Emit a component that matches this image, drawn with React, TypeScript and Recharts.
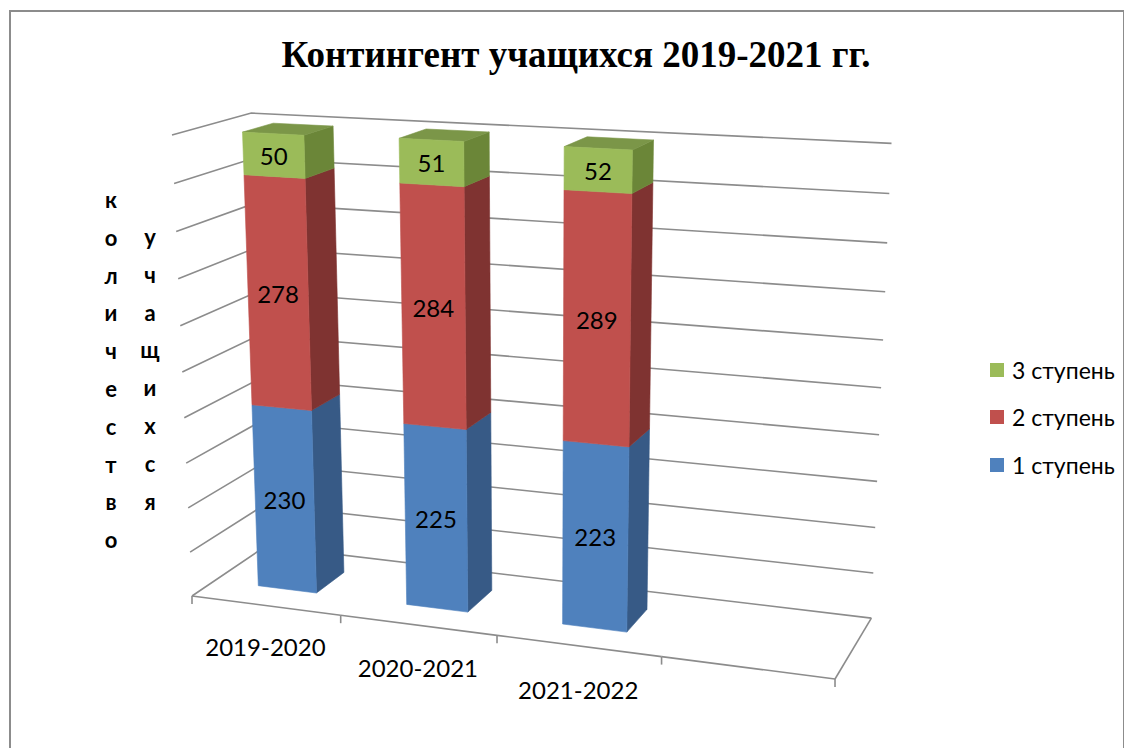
import React from 'react';
import { BarChart, Bar, XAxis, YAxis, CartesianGrid, Legend, LabelList } from 'recharts';

// categories (the 4th slot is empty in the source sheet)
const CATEGORIES = ['2019-2020', '2020-2021', '2021-2022', ''];
const STAGE_1 = [230, 225, 223, null];
const STAGE_2 = [278, 284, 289, null];
const STAGE_3 = [50, 51, 52, null];
const Y_MAX = 560;
const Y_TICKS = [0, 56, 112, 168, 224, 280, 336, 392, 448, 504, 560];

const data = CATEGORIES.map((name, i) => ({ name, s1: STAGE_1[i], s2: STAGE_2[i], s3: STAGE_3[i] }));

const FONT = 'Lato, "Open Sans", sans-serif';
const GRID = '#8c8c8c';

const W = 1124;
const H = 740;
const MARGIN = { top: 100, right: 230, bottom: 60, left: 100 };
const X_AXIS_H = 40;
const L = MARGIN.left;
const R = W - MARGIN.right;
const T = MARGIN.top;
const B = H - MARGIN.bottom - X_AXIS_H;

// perspective of the 3-D box: u along categories, v up the value axis, d into the depth
const O = [184, 588];
const U = [562.3, 17.5];
const V = [-29.0, -468.0];
const D = [91.5, -13.5];
const CU = -0.0976;
const CV = -0.0549;
const CD = 0.068;
const FRONT = 0.3;
const BACK = 0.7;

const proj = (u: number, v: number, d: number) => {
  const w = 1 + CU * u + CV * v + CD * d;
  return [(O[0] + U[0] * u + V[0] * v + D[0] * d) / w, (O[1] + U[1] * u + V[1] * v + D[1] * d) / w];
};
const toU = (x: number) => (x - L) / (R - L);
const toV = (y: number) => (B - y) / (B - T);
const pts = (list: number[][]) => list.map((p) => p[0].toFixed(1) + ',' + p[1].toFixed(1)).join(' ');

const Prism = (props: any) => {
  const { x, y, width, height, colors } = props;
  if (height == null || height <= 0 || isNaN(height)) return null;
  const u0 = toU(x);
  const u1 = toU(x + width);
  const v0 = toV(y + height);
  const v1 = toV(y);
  const front = [proj(u0, v0, FRONT), proj(u1, v0, FRONT), proj(u1, v1, FRONT), proj(u0, v1, FRONT)];
  const side = [proj(u1, v0, FRONT), proj(u1, v0, BACK), proj(u1, v1, BACK), proj(u1, v1, FRONT)];
  const top = [proj(u0, v1, FRONT), proj(u1, v1, FRONT), proj(u1, v1, BACK), proj(u0, v1, BACK)];
  return (
    <g>
      <polygon points={pts(side)} fill={colors[1]} stroke={colors[1]} strokeWidth={0.6} />
      {colors[2] && <polygon points={pts(top)} fill={colors[2]} stroke={colors[2]} strokeWidth={0.6} />}
      <polygon points={pts(front)} fill={colors[0]} stroke={colors[0]} strokeWidth={0.6} />
    </g>
  );
};

const renderValueLabel = (props: any) => {
  const { x, y, width, height, value } = props;
  if (value == null || !height) return null;
  const p = proj(toU(x + width / 2), toV(y + height / 2), FRONT);
  return (
    <text x={p[0]} y={p[1]} textAnchor="middle" dominantBaseline="central" fontFamily={FONT} fontSize={24} fill="#000">
      {value}
    </text>
  );
};

const renderGridLine = (p: any) => {
  const v = toV(p.y1);
  const a = proj(0, v, 0);
  const b = proj(0, v, 1);
  const c = proj(1, v, 1);
  return <polyline key={'h' + p.y1} points={pts([a, b, c])} fill="none" stroke={GRID} strokeWidth={1.6} />;
};

const CategoryTick = (props: any) => {
  const { x, payload, index } = props;
  const half = 0.5 / CATEGORIES.length;
  const uc = toU(x);
  const l = proj(uc - half, 0, 0);
  const r = proj(uc + half, 0, 0);
  const mid = proj(uc, 0, 0);
  const w = 1 + CU * uc;
  const last = index === CATEGORIES.length - 1;
  const back = proj(1, 0, 1);
  return (
    <g>
      <line x1={l[0]} y1={l[1]} x2={r[0]} y2={r[1]} stroke={GRID} strokeWidth={1.6} />
      <line x1={l[0]} y1={l[1]} x2={l[0]} y2={l[1] + 8} stroke={GRID} strokeWidth={1.6} />
      {last && <line x1={r[0]} y1={r[1]} x2={r[0]} y2={r[1] + 8} stroke={GRID} strokeWidth={1.6} />}
      {last && <line x1={r[0]} y1={r[1]} x2={back[0]} y2={back[1]} stroke={GRID} strokeWidth={1.6} />}
      {payload.value && (
        <text x={mid[0]} y={mid[1] + 41 / w} textAnchor="middle" dominantBaseline="central" fontFamily={FONT} fontSize={24} fill="#000">
          {payload.value}
        </text>
      )}
    </g>
  );
};

const LegendBox = ({ payload }: any) => (
  <div>
    {[...(payload || [])].reverse().map((item: any) => (
      <div key={item.value} style={{ display: 'flex', alignItems: 'center', height: 47.5 }}>
        <span style={{ display: 'inline-block', width: 14, height: 14, background: item.color, marginRight: 8 }} />
        <span style={{ fontFamily: FONT, fontSize: 23, color: '#000' }}>{item.value}</span>
      </div>
    ))}
  </div>
);

const letters = (word: string) =>
  word.split('').map((ch, i) => (
    <div key={i} style={{ height: 37.8, lineHeight: '37.8px', textAlign: 'center' }}>{ch}</div>
  ));

export default function App() {
  return (
    <div style={{ position: 'relative', width: W, height: H, overflow: 'hidden', background: '#fff' }}>
      <div style={{ position: 'absolute', left: 1, top: 2, width: 1116, height: 900, border: '2px solid #8c8c8c', boxSizing: 'border-box' }} />
      <div
        style={{
          position: 'absolute', left: 6, top: 27, width: W, lineHeight: '40px', textAlign: 'center',
          fontFamily: '"Liberation Serif", "Times New Roman", serif', fontWeight: 'bold', fontSize: 37, color: '#000',
        }}
      >
        Контингент учащихся 2019-2021 гг.
      </div>
      <div style={{ position: 'absolute', left: 88, top: 173, width: 30, fontFamily: FONT, fontWeight: 'bold', fontSize: 22 }}>
        {letters('количество')}
      </div>
      <div style={{ position: 'absolute', left: 127, top: 210, width: 30, fontFamily: FONT, fontWeight: 'bold', fontSize: 22 }}>
        {letters('учащихся')}
      </div>
      <div style={{ position: 'absolute', left: 0, top: 0 }}>
        <BarChart width={W} height={H} data={data} margin={MARGIN} barCategoryGap="30%">
          <CartesianGrid vertical={false} horizontal={renderGridLine} />
          <XAxis dataKey="name" height={X_AXIS_H} axisLine={false} tickLine={false} interval={0} tick={<CategoryTick />} />
          <YAxis hide type="number" domain={[0, Y_MAX]} ticks={Y_TICKS} allowDataOverflow />
          <Legend
            layout="vertical"
            align="center"
            verticalAlign="middle"
            wrapperStyle={{ left: 982, top: 338, width: 140 }}
            content={<LegendBox />}
          />
          <Bar dataKey="s1" name="1 ступень" stackId="a" fill="#4F81BD" isAnimationActive={false}
            shape={(p: any) => <Prism {...p} colors={['#4F81BD', '#375A86', null]} />}>
            <LabelList dataKey="s1" content={renderValueLabel} />
          </Bar>
          <Bar dataKey="s2" name="2 ступень" stackId="a" fill="#C0504D" isAnimationActive={false}
            shape={(p: any) => <Prism {...p} colors={['#C0504D', '#7F3331', null]} />}>
            <LabelList dataKey="s2" content={renderValueLabel} />
          </Bar>
          <Bar dataKey="s3" name="3 ступень" stackId="a" fill="#9BBB59" isAnimationActive={false}
            shape={(p: any) => <Prism {...p} colors={['#9BBB59', '#6B8638', '#7B9648']} />}>
            <LabelList dataKey="s3" content={renderValueLabel} />
          </Bar>
        </BarChart>
      </div>
    </div>
  );
}
